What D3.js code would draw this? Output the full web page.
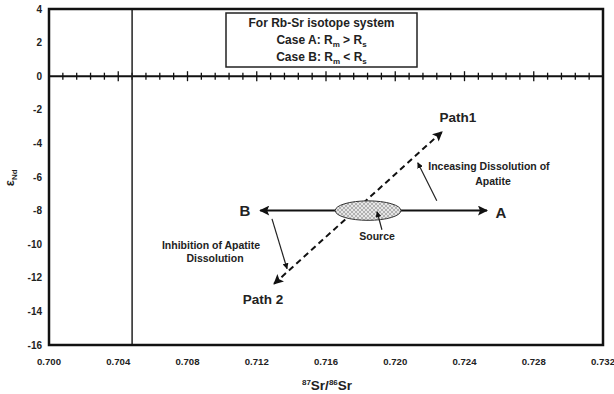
<!DOCTYPE html>
<html lang="en">
<head>
  <meta charset="UTF-8">
  <title>Rb-Sr isotope system</title>
  <script src="https://cdn.jsdelivr.net/npm/d3@7"></script>
  <style>
    body { margin: 0; background: #fff; }
    text { font-family: "Liberation Sans", Arial, sans-serif; font-weight: bold; fill: #222; }
  </style>
</head>
<body>
  <svg width="614" height="394"></svg>
  <script>
    // data
    var xTicks = [0.700, 0.704, 0.708, 0.712, 0.716, 0.720, 0.724, 0.728, 0.732];
    var yTicks = [4, 2, 0, -2, -4, -6, -8, -10, -12, -14, -16];
    var mantleLine = 0.7048;
    var source = {x: 0.71843, y: -8, rx: 0.0019, ry: 0.58};
    var caseArrow = [[0.7122, -8], [0.7253, -8]];
    var pathLine = [[0.7130, -12.36], [0.7227, -3.31]];
    var incArrow = [[0.7224, -7.41], [0.7213, -5.15]];
    var inhArrow = [[0.71288, -8.49], [0.71375, -11.46]];
    var srcArrow = [[0.71923, -9.14], [0.71895, -8.07]];
    var labels = [
      {t: 'Path1', x: 0.72362, y: -2.42, size: 13.5},
      {t: 'Path 2', x: 0.71236, y: -13.25, size: 13.5},
      {t: 'B', x: 0.71132, y: -8, size: 15},
      {t: 'A', x: 0.72611, y: -8.1, size: 15},
      {t: 'Source', x: 0.71895, y: -9.55, size: 10.5},
      {t: 'Inceasing Dissolution of', x: 0.72541, y: -5.39, size: 10.5},
      {t: 'Apatite', x: 0.72565, y: -6.23, size: 10.5},
      {t: 'Inhibition of Apatite', x: 0.70936, y: -10.05, size: 10.5},
      {t: 'Dissolution', x: 0.70959, y: -10.85, size: 10.5}
    ];

    var svg = d3.select('svg');
    var margin = {top: 9, right: 11, bottom: 49, left: 49};
    var width = svg.attr('width') - margin.left - margin.right;
    var height = svg.attr('height') - margin.top - margin.bottom;

    var x = d3.scaleLinear().domain([0.700, 0.732]).range([0, width]);
    var y = d3.scaleLinear().domain([-16, 4]).range([height, 0]);

    var defs = svg.append('defs');
    defs.append('marker')
      .attr('id', 'head')
      .attr('viewBox', '0 0 10 10')
      .attr('refX', 9).attr('refY', 5)
      .attr('markerWidth', 6).attr('markerHeight', 6)
      .attr('markerUnits', 'userSpaceOnUse')
      .attr('orient', 'auto-start-reverse')
      .append('path').attr('d', 'M0,0L10,5L0,10z').attr('fill', '#111');
    defs.append('marker')
      .attr('id', 'bighead')
      .attr('viewBox', '0 0 10 10')
      .attr('refX', 9).attr('refY', 5)
      .attr('markerWidth', 11).attr('markerHeight', 10)
      .attr('markerUnits', 'userSpaceOnUse')
      .attr('orient', 'auto-start-reverse')
      .append('path').attr('d', 'M0,0L10,5L0,10L2,5z').attr('fill', '#111');
    var pat = defs.append('pattern')
      .attr('id', 'stipple')
      .attr('width', 4).attr('height', 4)
      .attr('patternUnits', 'userSpaceOnUse');
    pat.append('rect').attr('width', 4).attr('height', 4).attr('fill', '#e6e6e6');
    pat.append('circle').attr('cx', 1).attr('cy', 1).attr('r', 0.7).attr('fill', '#555');
    pat.append('circle').attr('cx', 3).attr('cy', 3).attr('r', 0.7).attr('fill', '#555');

    var chart = svg.append('g')
      .attr('transform', 'translate(' + margin.left + ',' + margin.top + ')');

    // y axis labels
    chart.selectAll('.ylab')
      .data(yTicks)
      .enter().append('text')
      .attr('class', 'ylab')
      .attr('x', -7)
      .attr('y', function(d) { return y(d); })
      .attr('dy', '0.35em')
      .attr('text-anchor', 'end')
      .style('font-size', '10px')
      .text(function(d) { return d; });

    // x axis labels
    chart.selectAll('.xlab')
      .data(xTicks)
      .enter().append('text')
      .attr('class', 'xlab')
      .attr('x', function(d) { return x(d); })
      .attr('y', height + 20)
      .attr('text-anchor', 'middle')
      .style('font-size', '9.6px')
      .text(function(d) { return d3.format('.3f')(d); });

    // axis titles
    var xt = chart.append('text')
      .attr('x', 278)
      .attr('y', height + 45)
      .attr('text-anchor', 'middle')
      .style('font-size', '13.5px');
    xt.append('tspan').attr('baseline-shift', '5').style('font-size', '8px').text('87');
    xt.append('tspan').text('Sr/');
    xt.append('tspan').attr('baseline-shift', '5').style('font-size', '8px').text('86');
    xt.append('tspan').text('Sr');

    var yt = chart.append('text')
      .attr('transform', 'translate(' + (-35) + ',' + y(-6.05) + ') rotate(-90)')
      .attr('text-anchor', 'middle')
      .style('font-size', '13px');
    yt.append('tspan').text('ε');
    yt.append('tspan').attr('baseline-shift', '-3').style('font-size', '8px').text('Nd');

    // zero line with ticks
    chart.append('line')
      .attr('x1', 0).attr('x2', width)
      .attr('y1', y(0)).attr('y2', y(0))
      .attr('stroke', '#111').attr('stroke-width', 2);
    var minor = d3.range(0.700, 0.7321, 0.0008).filter(function(d) { return d < 0.7319; });
    chart.selectAll('.tick')
      .data(minor)
      .enter().append('line')
      .attr('class', 'tick')
      .attr('x1', function(d) { return x(d); })
      .attr('x2', function(d) { return x(d); })
      .attr('y1', function(d, i) { return y(0) - (i % 5 === 0 ? 5 : 3.5); })
      .attr('y2', function(d, i) { return y(0) + (i % 5 === 0 ? 5 : 3.5); })
      .attr('stroke', '#111').attr('stroke-width', 1.3);

    // vertical reference line
    chart.append('line')
      .attr('x1', x(mantleLine)).attr('x2', x(mantleLine))
      .attr('y1', 0).attr('y2', height)
      .attr('stroke', '#222').attr('stroke-width', 1.5);

    // legend box
    var box = chart.append('g').attr('transform', 'translate(' + 177 + ',' + 4 + ')');
    box.append('rect')
      .attr('width', 191).attr('height', 54)
      .attr('fill', '#fff').attr('stroke', '#222').attr('stroke-width', 1.5);
    box.append('text').attr('x', 95.5).attr('y', 14).attr('text-anchor', 'middle')
      .style('font-size', '12px').text('For Rb-Sr isotope system');
    [['Case A: R', ' > R'], ['Case B: R', ' < R']].forEach(function(p, i) {
      var t = box.append('text').attr('x', 95.5).attr('y', 31 + i * 17)
        .attr('text-anchor', 'middle').style('font-size', '12px');
      t.append('tspan').text(p[0]);
      t.append('tspan').attr('baseline-shift', '-3').style('font-size', '8px').text('m');
      t.append('tspan').text(p[1]);
      t.append('tspan').attr('baseline-shift', '-3').style('font-size', '8px').text('s');
    });

    var line = d3.line()
      .x(function(d) { return x(d[0]); })
      .y(function(d) { return y(d[1]); });

    // dashed path line (both ends arrowed)
    chart.append('path')
      .attr('d', line(pathLine))
      .attr('fill', 'none').attr('stroke', '#111')
      .attr('stroke-width', 2).attr('stroke-dasharray', '6,4')
      .attr('marker-start', 'url(#bighead)')
      .attr('marker-end', 'url(#bighead)');

    // horizontal case arrow
    chart.append('path')
      .attr('d', line(caseArrow))
      .attr('fill', 'none').attr('stroke', '#111').attr('stroke-width', 2)
      .attr('marker-start', 'url(#bighead)')
      .attr('marker-end', 'url(#bighead)');

    // source ellipse
    chart.append('ellipse')
      .attr('cx', x(source.x)).attr('cy', y(source.y))
      .attr('rx', x(source.x + source.rx) - x(source.x))
      .attr('ry', y(source.y - source.ry) - y(source.y))
      .attr('fill', 'url(#stipple)')
      .attr('stroke', '#333').attr('stroke-width', 1);

    // thin arrows
    [incArrow, inhArrow, srcArrow].forEach(function(a) {
      chart.append('path')
        .attr('d', line(a))
        .attr('fill', 'none').attr('stroke', '#222').attr('stroke-width', 1.2)
        .attr('marker-end', 'url(#head)');
    });

    // labels
    chart.selectAll('.lab')
      .data(labels)
      .enter().append('text')
      .attr('class', 'lab')
      .attr('x', function(d) { return x(d.x); })
      .attr('y', function(d) { return y(d.y); })
      .attr('dy', '0.35em')
      .attr('text-anchor', 'middle')
      .style('font-size', function(d) { return d.size + 'px'; })
      .text(function(d) { return d.t; });

    // frame
    chart.append('rect')
      .attr('width', width).attr('height', height)
      .attr('fill', 'none').attr('stroke', '#111').attr('stroke-width', 2.5);
  </script>
</body>
</html>
